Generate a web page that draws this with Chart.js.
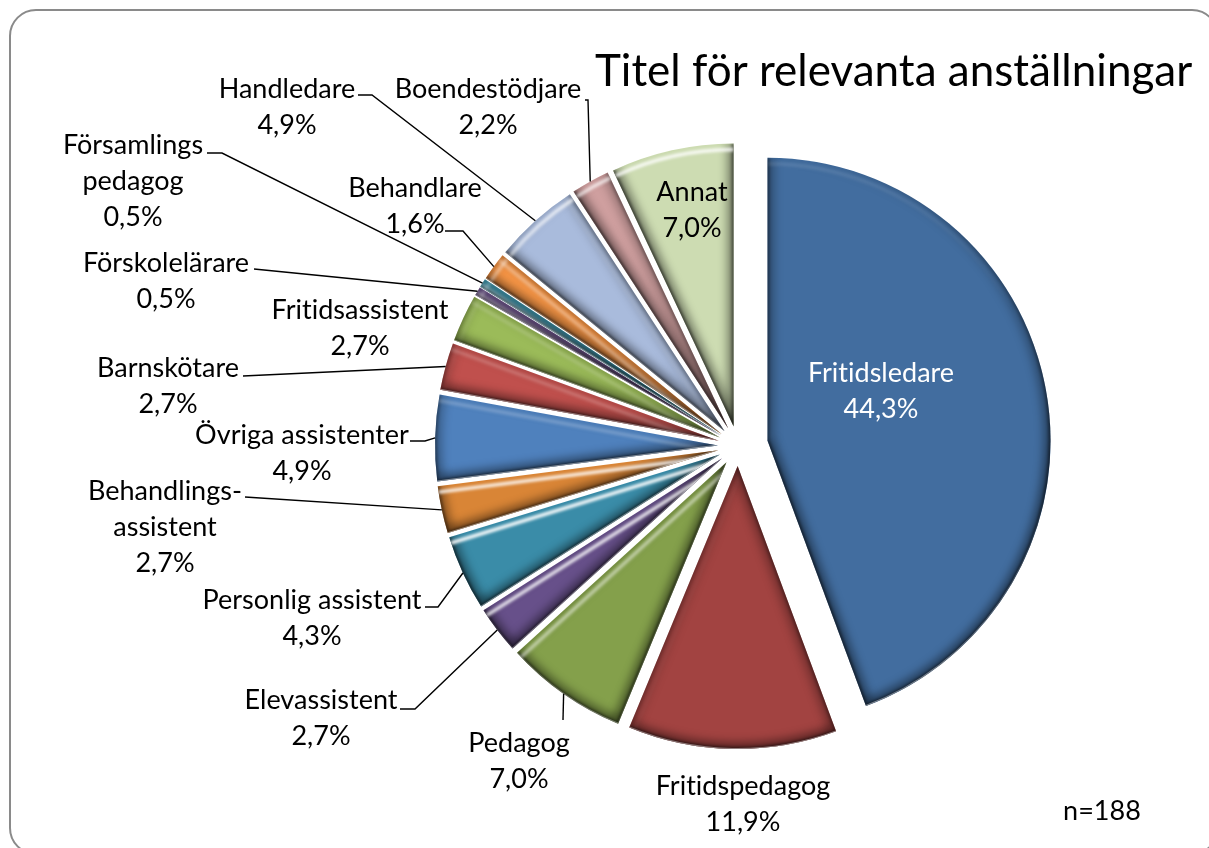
<!DOCTYPE html>
<html lang="sv">
<head>
<meta charset="utf-8">
<title>Titel för relevanta anställningar</title>
<script src="https://cdn.jsdelivr.net/npm/chart.js@4"></script>
<style>
  html, body { margin: 0; height: 100%; background: #fff; overflow: hidden; }
  #frame { position: absolute; left: 9px; top: 9px; width: 1210px; height: 846px;
           border: 2.5px solid #8a8a8a; border-radius: 27px; box-sizing: border-box; }
  #pie { position: absolute; left: 0; top: 0; }
</style>
</head>
<body>
<div id="frame"></div>
<canvas id="pie" width="1209" height="848"></canvas>
<script>
'use strict';

const categories = ["Fritidsledare", "Fritidspedagog", "Pedagog", "Elevassistent", "Personlig assistent",
  "Behandlings-\nassistent", "Övriga assistenter", "Barnskötare", "Fritidsassistent", "Förskolelärare",
  "Församlings\npedagog", "Behandlare", "Handledare", "Boendestödjare", "Annat"];
const shares = [44.3, 11.9, 7.0, 2.7, 4.3, 2.7, 4.9, 2.7, 2.7, 0.5, 0.5, 1.6, 4.9, 2.2, 7.0];

const sliceColors = ["#426d9f", "#a24341", "#84a04b", "#67508a", "#3a8ca8", "#d98536", "#4f81bd", "#c0504d",
  "#9bbb59", "#8064a2", "#4bacc6", "#f79646", "#a9bbdc", "#cf9f9f", "#cddcb2"];
const explodeBy = [30, 20, 20, 20, 20, 20, 20, 20, 20, 20, 20, 20, 20, 20, 20];
// how strong the shine is on each slice
const glossBy = [0.12, 0.1, 0.7, 1, 1, 0.9, 0.25, 0.25, 0.25, 0.5, 0.5, 0.7, 0.9, 0.8, 0.9];

// centre x and first line y of each label
const labelSpots = [[881, 373], [743, 786], [519, 743], [321, 700], [312, 600], [165, 491], [302, 435], [168, 368],
  [360, 310], [166, 263], [133, 145], [415, 188], [287, 89], [488, 89], [692, 192]];
// leader lines: label end and elbow, the last point comes from the slice itself
const leaders = {
  2: [[563, 720]],
  3: [[400, 709], [415, 709]],
  4: [[425, 607], [438, 607]],
  5: [[245, 497]],
  6: [[410, 441], [425, 441]],
  7: [[243, 376]],
  9: [[254, 269]],
  10: [[207, 153], [222, 153]],
  11: [[445, 231], [463, 231]],
  12: [[358, 95], [372, 95]],
  13: [[585, 100], [588, 100]]
};

const chartTitle = "Titel för relevanta anställningar";
const sampleNote = "n=188";
const FONT = "Lato, 'Open Sans', sans-serif";
const LIGHT = { x: -0.15, y: -0.99 };

/**
 * move each slice out along its middle angle
 */
const explodePlugin = {
  id: "explode",
  afterDatasetUpdate(chart) {
    chart.getDatasetMeta(0).data.forEach(function (arc, i) {
      const mid = (arc.startAngle + arc.endAngle) / 2;
      arc.x += Math.cos(mid) * explodeBy[i];
      arc.y += Math.sin(mid) * explodeBy[i];
    });
  }
};

const facing = function (nx, ny) {
  return nx * LIGHT.x + ny * LIGHT.y;
};

const darkAlpha = function (dot) {
  return Math.min(1, (1 - dot) * 0.8);
};

const lightAlpha = function (dot) {
  return Math.max(0, (dot - 0.35) / 0.65);
};

const underAlpha = function (dot) {
  return Math.max(0, (-dot - 0.35) / 0.65);
};

const slicePath = function (ctx, arc) {
  ctx.beginPath();
  ctx.moveTo(arc.x, arc.y);
  ctx.arc(arc.x, arc.y, arc.outerRadius, arc.startAngle, arc.endAngle);
  ctx.closePath();
};

// conic stroke style for the rim, strength depends on where the rim faces
const rimStyle = function (ctx, arc, rgb, strength) {
  const grad = ctx.createConicGradient(0, arc.x, arc.y);
  for (let s = 0; s <= 72; s++) {
    const a = s / 72 * Math.PI * 2;
    grad.addColorStop(s / 72, "rgba(" + rgb + "," + strength(facing(Math.cos(a), Math.sin(a))).toFixed(3) + ")");
  }
  return grad;
};

const drawEdges = function (ctx, arc, inset, rgb, width, alphaOf, scale) {
  const r = arc.outerRadius;
  const sides = [
    { angle: arc.startAngle, nx: Math.sin(arc.startAngle), ny: -Math.cos(arc.startAngle) },
    { angle: arc.endAngle, nx: -Math.sin(arc.endAngle), ny: Math.cos(arc.endAngle) }
  ];
  ctx.lineWidth = width;
  sides.forEach(function (side) {
    const alpha = alphaOf(facing(side.nx, side.ny)) * scale;
    if (alpha <= 0) return;
    ctx.strokeStyle = "rgba(" + rgb + "," + alpha.toFixed(3) + ")";
    ctx.beginPath();
    const ox = arc.x - side.nx * inset;
    const oy = arc.y - side.ny * inset;
    ctx.moveTo(ox, oy);
    ctx.lineTo(ox + Math.cos(side.angle) * r, oy + Math.sin(side.angle) * r);
    ctx.stroke();
  });
  ctx.strokeStyle = rimStyle(ctx, arc, rgb, function (dot) { return alphaOf(dot) * scale; });
  ctx.beginPath();
  ctx.arc(arc.x, arc.y, r - inset, arc.startAngle, arc.endAngle);
  ctx.stroke();
};

/**
 * bevel: dark edges facing away from the light, a shine on those facing it
 */
const bevelPlugin = {
  id: "bevel",
  afterDatasetDraw(chart) {
    const ctx = chart.ctx;
    chart.getDatasetMeta(0).data.forEach(function (arc, i) {
      ctx.save();
      slicePath(ctx, arc);
      ctx.clip();
      ctx.filter = "blur(4px)";
      drawEdges(ctx, arc, 0, "0,0,0", 14, darkAlpha, 0.4);
      ctx.filter = "blur(1.5px)";
      drawEdges(ctx, arc, 0, "0,0,0", 4, darkAlpha, 0.55);
      drawEdges(ctx, arc, 6, "255,255,255", 3.5, lightAlpha, glossBy[i]);
      ctx.filter = "none";
      drawEdges(ctx, arc, 0, "255,255,255", 2, underAlpha, 0.45);
      ctx.restore();
    });
  }
};

const percentText = function (value) {
  return value.toFixed(1).replace(".", ",") + "%";
};

/**
 * title, note, labels and leader lines
 */
const textPlugin = {
  id: "texts",
  afterDraw(chart) {
    const ctx = chart.ctx;
    const arcs = chart.getDatasetMeta(0).data;
    ctx.save();
    ctx.strokeStyle = "#000";
    ctx.lineWidth = 1.4;
    Object.keys(leaders).forEach(function (key) {
      const arc = arcs[key];
      const mid = (arc.startAngle + arc.endAngle) / 2;
      const pts = leaders[key];
      ctx.beginPath();
      ctx.moveTo(pts[0][0], pts[0][1]);
      pts.slice(1).forEach(function (p) { ctx.lineTo(p[0], p[1]); });
      ctx.lineTo(arc.x + Math.cos(mid) * arc.outerRadius, arc.y + Math.sin(mid) * arc.outerRadius);
      ctx.stroke();
    });

    ctx.textAlign = "center";
    ctx.textBaseline = "middle";
    ctx.letterSpacing = "0.01px";
    ctx.font = "27px " + FONT;
    categories.forEach(function (name, i) {
      const lines = name.split("\n").concat(percentText(shares[i]));
      ctx.fillStyle = i === 0 ? "#fff" : "#000";
      lines.forEach(function (line, n) {
        ctx.fillText(line, labelSpots[i][0], labelSpots[i][1] + n * 36.3);
      });
    });

    ctx.fillStyle = "#000";
    ctx.fillText(sampleNote, 1102, 811);
    ctx.textAlign = "left";
    ctx.font = "44px " + FONT;
    ctx.fillText(chartTitle, 595, 72);
    ctx.restore();
  }
};

const pieChart = new Chart(document.getElementById("pie").getContext("2d"), {
  type: "pie",
  data: {
    labels: categories,
    datasets: [{
      data: shares,
      backgroundColor: sliceColors,
      borderWidth: 0
    }]
  },
  options: {
    responsive: false,
    animation: false,
    events: [],
    layout: { padding: { left: 455, right: 188, top: 163, bottom: 119 } },
    plugins: {
      legend: { display: false },
      tooltip: { enabled: false }
    }
  },
  plugins: [explodePlugin, bevelPlugin, textPlugin]
});
</script>
</body>
</html>
